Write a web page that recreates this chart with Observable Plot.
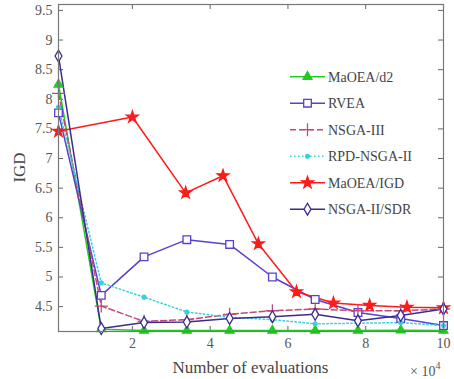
<!DOCTYPE html>
<html>
<head>
<meta charset="utf-8">
<script src="https://cdn.jsdelivr.net/npm/d3@7"></script>
<script src="https://cdn.jsdelivr.net/npm/@observablehq/plot@0.6"></script>
<style>
  html, body { margin: 0; padding: 0; background: #fff; }
  #wrap { position: relative; width: 454px; height: 379px; overflow: hidden; font-family: "Liberation Serif", "Times New Roman", serif; }
  #wrap svg { position: absolute; left: 0; top: 0; }
</style>
</head>
<body>
<div id="wrap"></div>
<script>
// ---- data ----
const evals = [0.1, 1.2, 2.3, 3.4, 4.5, 5.6, 6.7, 7.8, 8.9, 10];           // ×10^4
const evalsIGD = [0.1, 2.0, 3.37, 4.33, 5.24, 6.22, 7.17, 8.1, 9.06, 10];  // ×10^4 (MaOEA/IGD)
const seriesNames = ["MaOEA/d2", "RVEA", "NSGA-III", "RPD-NSGA-II", "MaOEA/IGD", "NSGA-II/SDR"];
const maoeaD2   = [8.25, 4.12, 4.095, 4.095, 4.095, 4.095, 4.095, 4.095, 4.10, 4.095];
const rvea      = [7.77, 4.69, 5.34, 5.63, 5.55, 5.00, 4.62, 4.40, 4.30, 4.18];
const nsga3     = [8.10, 4.51, 4.25, 4.28, 4.37, 4.43, 4.46, 4.43, 4.43, 4.46];
const rpdNsga2  = [7.87, 4.90, 4.66, 4.41, 4.32, 4.28, 4.21, 4.22, 4.23, 4.18];
const maoeaIGD  = [7.46, 7.70, 6.42, 6.71, 5.56, 4.75, 4.56, 4.52, 4.49, 4.48];
const nsga2SDR  = [8.73, 4.13, 4.23, 4.24, 4.30, 4.33, 4.37, 4.26, 4.35, 4.46];
const xTicks = [2, 4, 6, 8, 10];
const yTicks = [4.5, 5, 5.5, 6, 6.5, 7, 7.5, 8, 8.5, 9, 9.5];

// ---- styles ----
const seriesValues = [maoeaD2, rvea, nsga3, rpdNsga2, maoeaIGD, nsga2SDR];
const seriesX = [evals, evals, evals, evals, evalsIGD, evals];
const colors  = ["#1fcc1f", "#5a3fd0", "#c44a78", "#38cfe0", "#ff1a1a", "#3b2d8e"];
const symbols = ["triangle", "square", "plus", "circle", "star", "diamond"];
const radii   = [3.3, 4.3, 4.3, 1.9, 3.7, 3.6];
const fills   = ["#1fcc1f", "white", "none", "#38cfe0", "#ff1a1a", "white"];
const dashes  = [null, null, "6,3", "1.5,2.5", null, null];

const W = 454, H = 379, mL = 58, mR = 11, mT = 4, mB = 48;
const innerW = W - mL - mR, innerH = H - mT - mB;

const marks = [];
seriesNames.forEach((name, i) => {
  const rows = seriesValues[i].map((v, j) => ({x: seriesX[i][j], y: v, name}));
  marks.push(Plot.line(rows, {x: "x", y: "y", stroke: colors[i], strokeWidth: 1.5, strokeDasharray: dashes[i] || undefined}));
});
seriesNames.forEach((name, i) => {
  const rows = seriesValues[i].map((v, j) => ({x: seriesX[i][j], y: v, name}));
  marks.push(Plot.dot(rows, {x: "x", y: "y", symbol: symbols[i], r: radii[i], stroke: colors[i], fill: fills[i], strokeWidth: 1.3}));
});

const chart = Plot.plot({
  width: W, height: H,
  marginLeft: mL, marginRight: mR, marginTop: mT, marginBottom: mB,
  style: {fontFamily: '"Liberation Serif", "Times New Roman", serif', fontSize: "14px", color: "#444", background: "transparent"},
  x: {domain: [0.1, 10]},
  y: {domain: [4.08, 9.6]},
  marks: [
    Plot.axisX(xTicks, {tickSize: 0, tickPadding: 7, label: null, tickFormat: d => String(d), fill: "#555", fontSize: 14}),
    Plot.axisY(yTicks, {tickSize: 0, tickPadding: 6, label: null, tickFormat: d => String(d), fill: "#555", fontSize: 14}),
    Plot.tickX(xTicks, {x: d => d, insetTop: innerH - 5, stroke: "#666"}),
    Plot.tickX(xTicks, {x: d => d, insetBottom: innerH - 5, stroke: "#666"}),
    Plot.tickY(yTicks, {y: d => d, insetRight: innerW - 5, stroke: "#666"}),
    Plot.tickY(yTicks, {y: d => d, insetLeft: innerW - 5, stroke: "#666"}),
    ...marks,
    Plot.frame({stroke: "#777", strokeWidth: 1.2})
  ]
});
const wrap = document.getElementById("wrap");
wrap.appendChild(chart);

// ---- overlay: axis labels and legend ----
const ov = d3.select(wrap).append("svg").attr("width", W).attr("height", H)
  .style("font-family", '"Liberation Serif", "Times New Roman", serif');

ov.append("text").attr("x", mL + innerW / 2).attr("y", 372.5).attr("text-anchor", "middle")
  .attr("font-size", 17).attr("fill", "#444").text("Number of evaluations");
ov.append("text").attr("transform", `translate(25,${mT + innerH / 2}) rotate(-90)`).attr("text-anchor", "middle")
  .attr("font-size", 17).attr("fill", "#444").text("IGD");
const sci = ov.append("text").attr("x", 410).attr("y", 376).attr("font-size", 14).attr("fill", "#555");
sci.append("tspan").text("× 10");
sci.append("tspan").attr("font-size", 10).attr("dy", -7).text("4");

const symMap = {triangle: d3.symbolTriangle, square: d3.symbolSquare, plus: d3.symbolPlus, circle: d3.symbolCircle, star: d3.symbolStar, diamond: d3.symbolDiamond};
const lg = ov.append("g");
seriesNames.forEach((name, i) => {
  const cy = 76.7 + i * 26.5;
  lg.append("line").attr("x1", 290).attr("x2", 325).attr("y1", cy).attr("y2", cy)
    .attr("stroke", colors[i]).attr("stroke-width", 1.5).attr("stroke-dasharray", dashes[i]);
  lg.append("path").attr("transform", `translate(307.5,${cy})`)
    .attr("d", d3.symbol(symMap[symbols[i]], Math.PI * radii[i] * radii[i])())
    .attr("fill", fills[i]).attr("stroke", colors[i]).attr("stroke-width", 1.3);
  lg.append("text").attr("x", 328).attr("y", cy).attr("dy", "0.35em").attr("font-size", 14)
    .attr("fill", "#444").text(name);
});
</script>
</body>
</html>
